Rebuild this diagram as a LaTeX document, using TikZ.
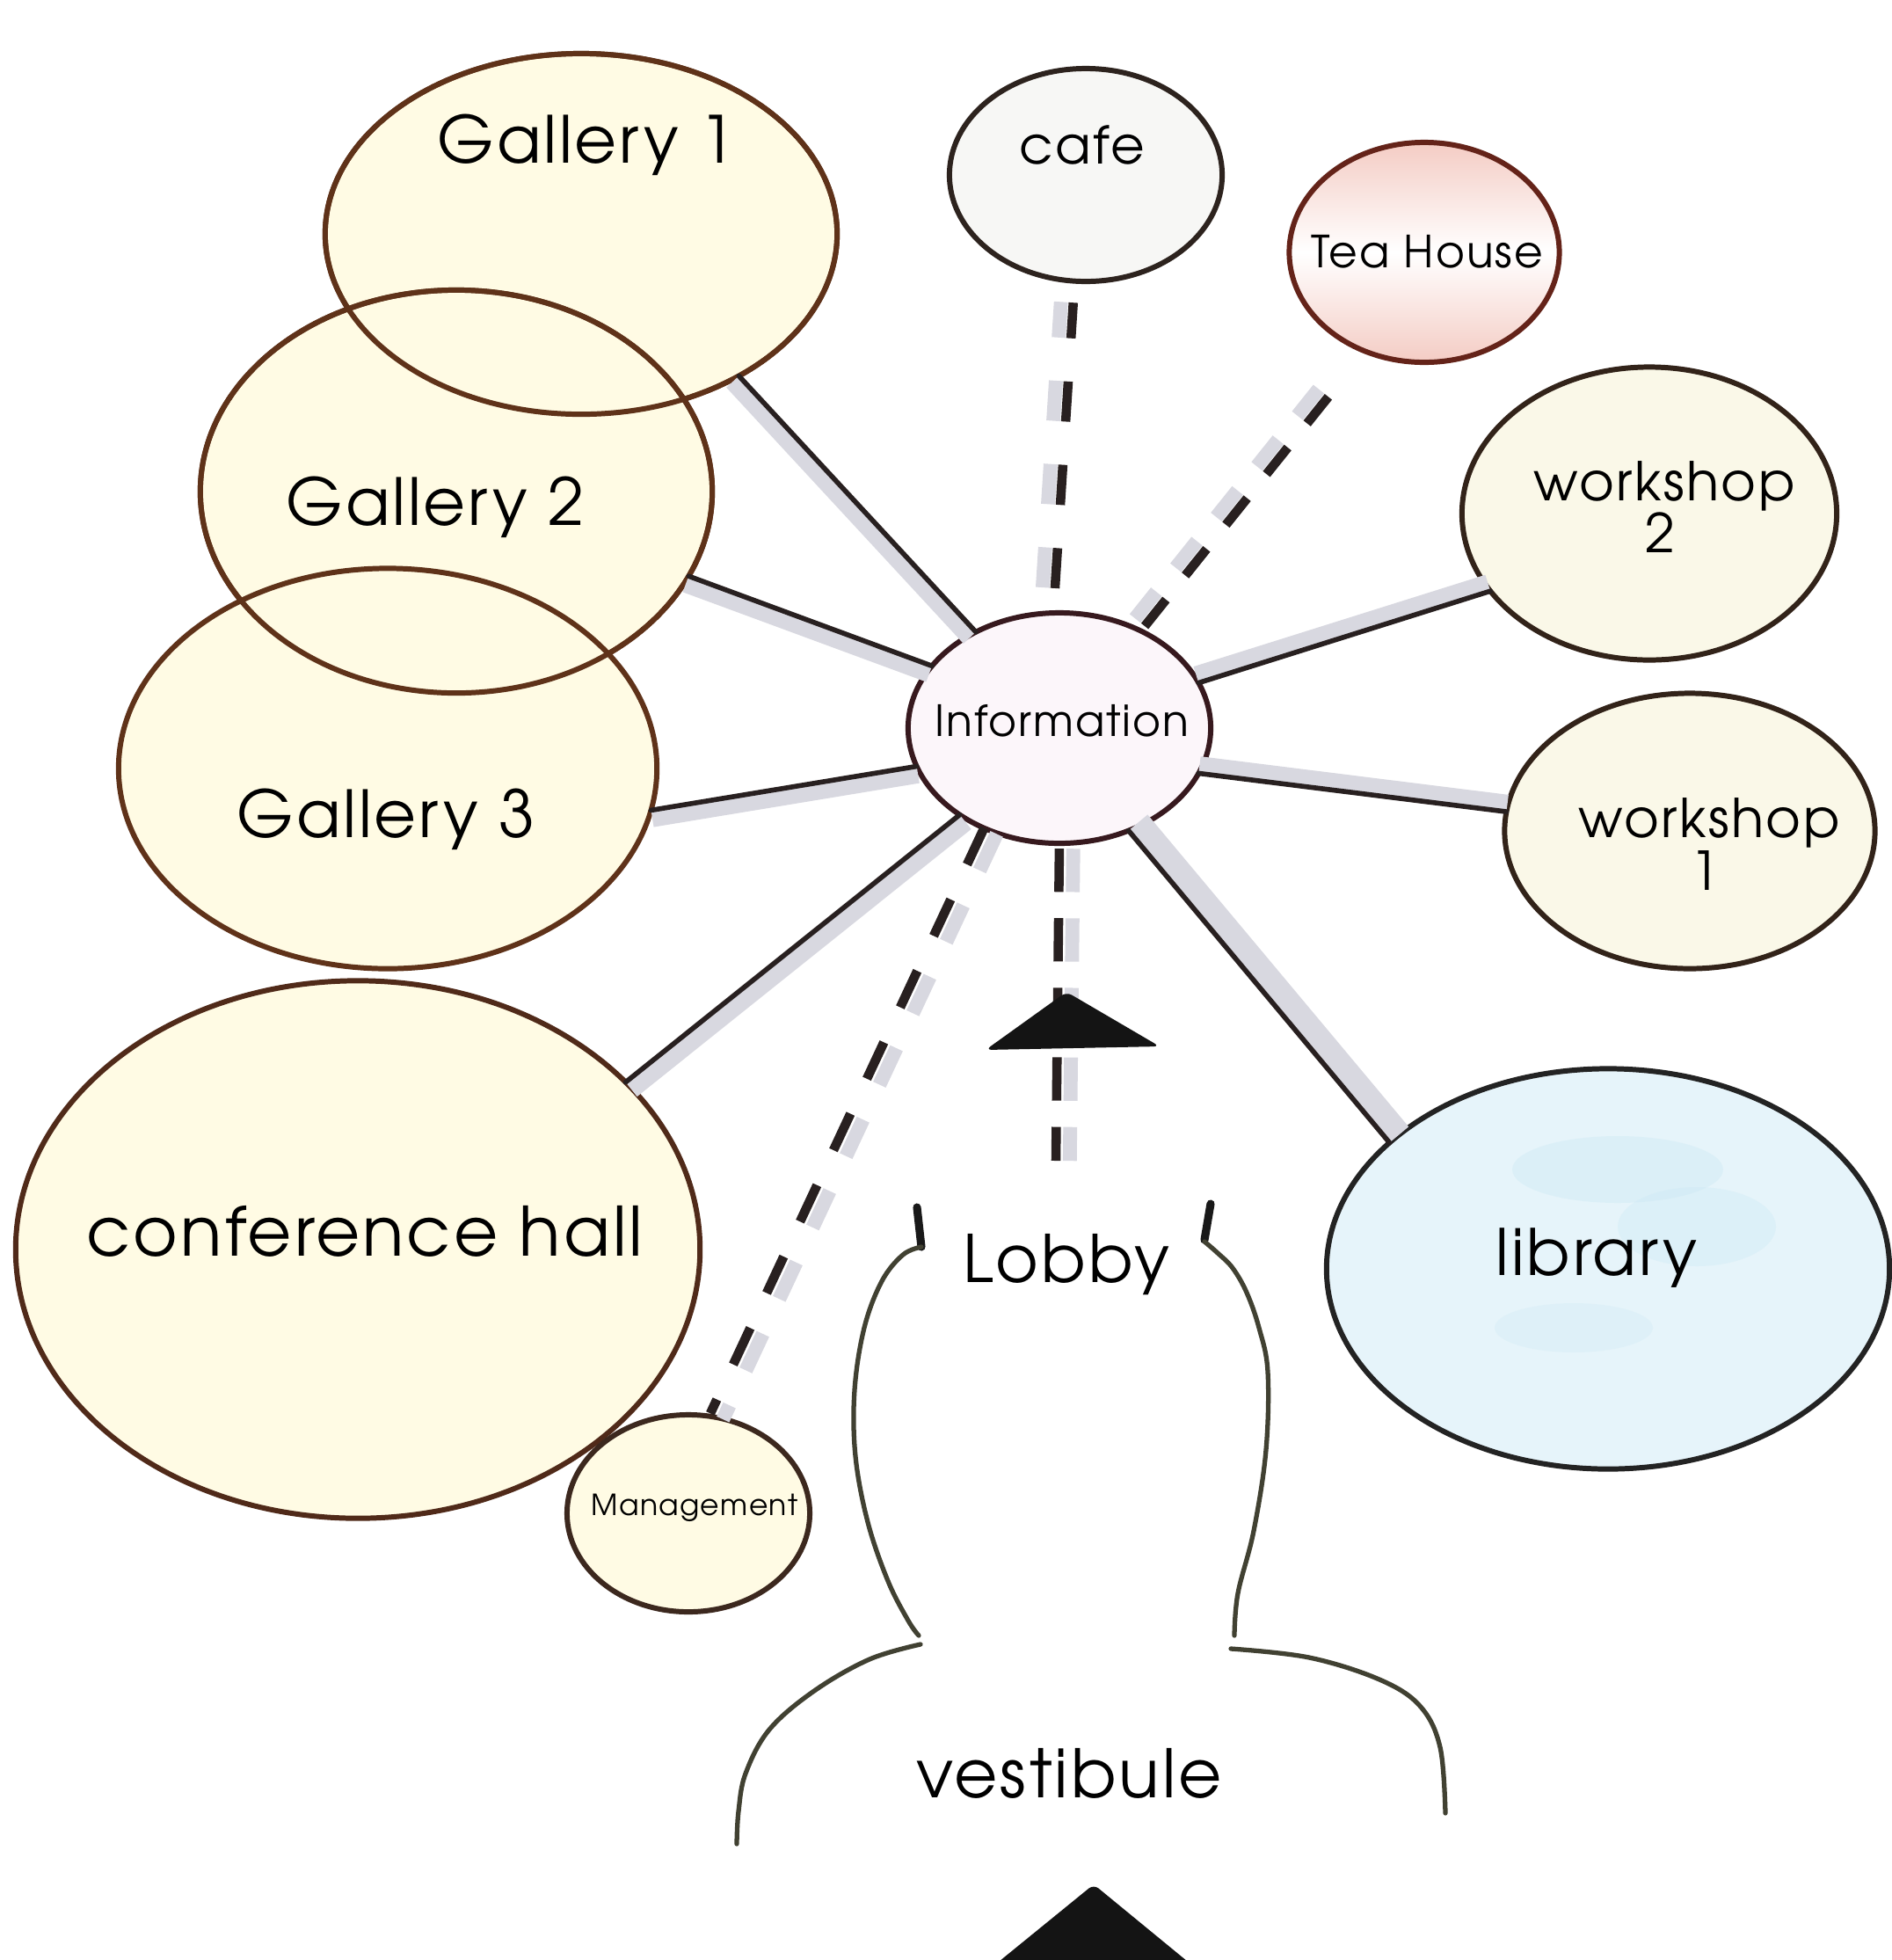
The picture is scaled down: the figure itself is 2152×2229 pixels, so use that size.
\documentclass[tikz,border=0pt]{standalone}
\usepackage{fontspec}
\setmainfont{TeX Gyre Adventor}[LetterSpace=4]
\usetikzlibrary{shapes.geometric,calc}
\definecolor{galfill}{RGB}{255,251,228}
\definecolor{galdraw}{RGB}{95,50,25}
\definecolor{confdraw}{RGB}{80,42,25}
\definecolor{mgdraw}{RGB}{60,40,30}
\definecolor{cafefill}{RGB}{247,247,245}
\definecolor{cafedraw}{RGB}{45,35,30}
\definecolor{teapink}{RGB}{244,204,196}
\definecolor{teadraw}{RGB}{100,35,25}
\definecolor{wsfill}{RGB}{250,248,232}
\definecolor{wsdraw}{RGB}{50,35,25}
\definecolor{libfill}{RGB}{230,244,250}
\definecolor{libblob}{RGB}{200,232,244}
\definecolor{libdraw}{RGB}{35,35,35}
\definecolor{infofill}{RGB}{252,246,250}
\definecolor{infodraw}{RGB}{55,25,30}
\definecolor{bandgrey}{RGB}{216,216,224}
\definecolor{linkdark}{RGB}{40,32,32}
\definecolor{wallcol}{RGB}{65,65,50}
\newcommand\fs[1]{\fontsize{#1}{#1}\selectfont}
\newcommand\redraw[2]{\draw[line width=1.7pt,#2] let \p0=(#1.center), \p1=(#1.east), \p2=(#1.north) in (#1.center) ellipse [x radius={\x1-\x0}, y radius={\y2-\y0}];}
\newcommand\conn[4]{%
  \draw[band,line width=#4] ($(#1)!#3!90:(#2)$) -- ($(#2)!#3!-90:(#1)$);
  \draw[link] (#1) -- (#2);}
\begin{document}
\begin{tikzpicture}[x=0.01cm,y=-0.01cm,
  room/.style={ellipse, inner sep=0pt, outer sep=0pt, line width=1.7pt},
  lbl/.style={anchor=base, inner sep=0pt, text=black},
  band/.style={draw=bandgrey, line cap=butt},
  link/.style={line width=1.6pt, draw=linkdark, line cap=round},
  dband/.style={line width=4.5pt, draw=bandgrey},
  dlink/.style={line width=3pt, draw=linkdark},
  wall/.style={line width=1.5pt, draw=wallcol, line cap=round},
  wtick/.style={line width=2.6pt, draw=black!90, line cap=round}
]
\useasboundingbox (0,0) rectangle (2152,2229);
\fill[white] (0,0) rectangle (2152,2229);

% rooms
\node[room, draw=galdraw, fill=galfill, minimum width=5.82cm, minimum height=4.10cm] (g1) at (661,266) {};
\node[room, draw=galdraw, fill=galfill, minimum width=5.82cm, minimum height=4.58cm] (g2) at (519,559) {};
\node[room, draw=galdraw, fill=galfill, minimum width=6.12cm, minimum height=4.55cm] (g3) at (441,874) {};
\redraw{g1}{galdraw}
\redraw{g2}{galdraw}
\node[room, draw=confdraw, fill=galfill, minimum width=7.78cm, minimum height=6.11cm] (conf) at (407,1421) {};
\node[room, draw=mgdraw, fill=galfill, minimum width=2.76cm, minimum height=2.24cm] (mgmt) at (783,1721) {};
\node[room, draw=cafedraw, fill=cafefill, minimum width=3.10cm, minimum height=2.42cm] (cafe) at (1235,199) {};
\shade[top color=teapink, bottom color=teapink, middle color=white] (1620,287) ellipse [x radius=153.5, y radius=125];
\node[room, draw=teadraw, minimum width=3.07cm, minimum height=2.50cm] (tea) at (1620,287) {};
\node[room, draw=wsdraw, fill=wsfill, minimum width=4.26cm, minimum height=3.33cm] (w2) at (1876,584) {};
\node[room, draw=wsdraw, fill=wsfill, minimum width=4.21cm, minimum height=3.13cm] (w1) at (1922,945) {};
\node[room, fill=libfill, minimum width=6.40cm, minimum height=4.55cm] (lib) at (1829,1443) {};
\fill[libblob, opacity=0.35] (1840,1330) ellipse [x radius=120, y radius=38];
\fill[libblob, opacity=0.3] (1930,1395) ellipse [x radius=90, y radius=45];
\fill[libblob, opacity=0.25] (1790,1510) ellipse [x radius=90, y radius=28];
\redraw{lib}{libdraw}
\node[room, draw=infodraw, fill=infofill, minimum width=3.44cm, minimum height=2.62cm] (info) at (1205,828) {};

% solid connectors
\conn{info.131}{g1.318}{3pt}{5pt}
\conn{info.154}{g2.340}{3pt}{5pt}
\conn{info.195}{g3.351}{3pt}{5pt}
\conn{info.221}{conf.32}{3.2pt}{5.5pt}
\conn{info.18}{w2.206}{3pt}{5pt}
\conn{info.342}{w1.174}{3pt}{5pt}
\conn{info.304}{lib.150}{4.3pt}{7.5pt}

% dashed connectors
\draw[dband, dash pattern=on 13pt off 14pt, shorten <=8pt, shorten >=7pt] ($(info.93)!4pt!90:(cafe.264)$) -- ($(cafe.264)!4pt!-90:(info.93)$);
\draw[dlink, dash pattern=on 13pt off 14pt, shorten <=8pt, shorten >=7pt] (info.93) -- (cafe.264);
\draw[dband, dash pattern=on 11pt off 10pt, shorten <=2pt, shorten >=13pt] ($(info.50)!4pt!90:(tea.239)$) -- ($(tea.239)!4pt!-90:(info.50)$);
\draw[dlink, dash pattern=on 11pt off 10pt, shorten <=2pt, shorten >=13pt] (info.50) -- (tea.239);
\draw[dband, dash pattern=on 13pt off 12.5pt, shorten <=0pt, shorten >=1pt] ($(info.233)!4.5pt!90:(mgmt.78)$) -- ($(mgmt.78)!4.5pt!-90:(info.233)$);
\draw[dlink, dash pattern=on 13pt off 12.5pt, shorten <=0pt, shorten >=1pt] (info.233) -- (mgmt.78);
\coordinate (dend) at (1201,1320);
\draw[dband, dash pattern=on 14pt off 8.5pt, shorten <=1.7pt] ($(info.270)!4.5pt!90:(dend)$) -- ($(dend)!4.5pt!-90:(info.270)$);
\draw[dlink, dash pattern=on 14pt off 8.5pt, shorten <=1.7pt] (info.270) -- (dend);

% arrows
\fill[black!92, rounded corners=2pt] (1213,1128) -- (1319,1190) -- (1121,1194) -- cycle;
\fill[black!92, rounded corners=2pt] (1244,2143) -- (1356,2235) -- (1131,2235) -- cycle;

% lobby and vestibule
\draw[wtick] (1043,1373) -- (1048,1418);
\draw[wtick] (1377,1369) -- (1370,1410);
\draw[wall] plot[smooth, tension=0.6] coordinates {(1048,1418) (1027,1427) (1003,1457) (983,1510) (972,1581) (973,1656) (987,1731) (1010,1798) (1033,1843) (1045,1860)};
\draw[wall] plot[smooth, tension=0.6] coordinates {(1370,1412) (1385,1425) (1402,1442) (1418,1470) (1432,1510) (1442,1560) (1440,1649) (1426,1741) (1408,1812) (1404,1860)};
\draw[wall] plot[smooth, tension=0.6] coordinates {(1047,1870) (989,1887) (926,1923) (875,1967) (848,2017) (840,2060) (838,2097)};
\draw[wall] plot[smooth, tension=0.6] coordinates {(1400,1875) (1489,1885) (1569,1910) (1615,1940) (1638,1987) (1644,2062)};

% labels
\node[lbl,font=\fs{21}] (tg1) at (667,185) {Gallery 1};
\node[lbl,font=\fs{21}] (tg2) at (495,597) {Gallery 2};
\node[lbl,font=\fs{21}] (tg3) at (439,952) {Gallery 3};
\node[lbl,font=\fs{22}] (tconf) at (415,1428) {conference hall};
\node[lbl,font=\fs{9.4}] (tmgmt) at (790,1723) {Management};
\node[lbl,font=\fs{16.9}] (tcafe) at (1231,186) {cafe};
\node[lbl,font=\fs{14.3}] (ttea) at (1623,304) {Tea House};
\node[lbl,font=\fs{17.3}] (tw2a) at (1893,569) {workshop};
\node[lbl,font=\fs{17.3}] (tw2b) at (1888,628) {2};
\node[lbl,font=\fs{17.3}] (tw1a) at (1944,952) {workshop};
\node[lbl,font=\fs{17.3}] (tw1b) at (1939,1012) {1};
\node[lbl,font=\fs{13.9}] (tinfo) at (1208,837) {Information};
\node[lbl,font=\fs{21.2}] (tlobby) at (1213,1458) {Lobby};
\node[lbl,font=\fs{20.7}] (tlib) at (1816,1450) {library};
\node[lbl,font=\fs{21.6}] (tvest) at (1216,2044) {vestibule};
\end{tikzpicture}
\end{document}
